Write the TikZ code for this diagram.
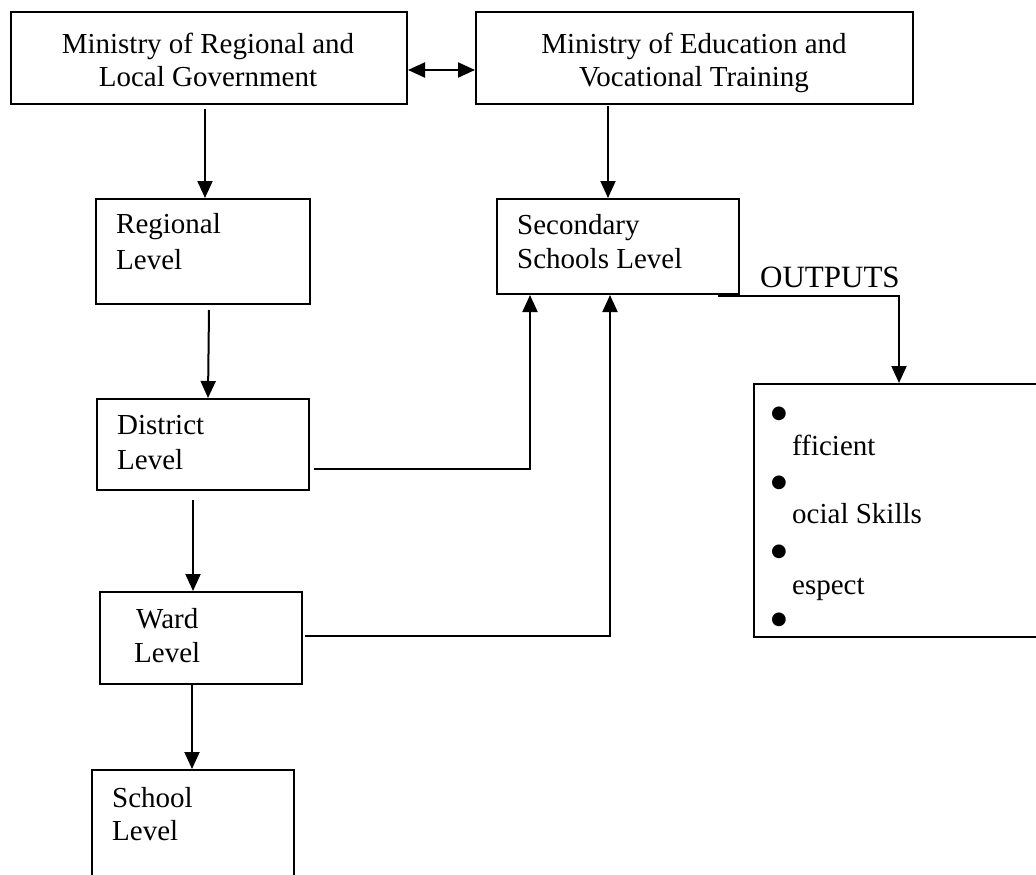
\documentclass[tikz,border=0pt]{standalone}
\usepackage{fontspec}
\setmainfont{Liberation Serif}
\newfontfamily\dejavu{DejaVu Sans}
\usetikzlibrary{arrows.meta,calc}
\begin{document}
\begin{tikzpicture}[x=1pt,y=-1pt,
  box/.style={draw, line width=2pt, inner sep=0pt, anchor=north west},
  txt/.style={anchor=base west, inner sep=0pt, font=\fontsize{29}{34}\selectfont},
  ctxt/.style={anchor=base, inner sep=0pt, font=\fontsize{29}{34}\selectfont},
  bul/.style={anchor=center, inner sep=0pt, font=\dejavu\fontsize{18}{20}\selectfont},
  tip/.tip={Triangle[length=17pt,width=15pt]},
  arr/.style={line width=2pt, -tip},
  darr/.style={line width=2pt, tip-tip}]
\clip (0,0) rectangle (1036,875);
\fill[white] (0,0) rectangle (1036,875);
% boxes
\node[box, minimum width=396pt, minimum height=92pt] (m1) at (10,11) {};
\node[box, minimum width=437pt, minimum height=92pt] (m2) at (475,11) {};
\node[box, minimum width=214pt, minimum height=105pt] (reg) at (95,198) {};
\node[box, minimum width=242pt, minimum height=95pt] (sec) at (496,198) {};
\node[box, minimum width=212pt, minimum height=91pt] (dis) at (96,398) {};
\node[box, minimum width=202pt, minimum height=92pt] (war) at (99,591) {};
\node[box, minimum width=202pt, minimum height=150pt] (sch) at (91,769) {};
\node[box, minimum width=320pt, minimum height=253pt] (out) at (753,383) {};
% texts
\node[ctxt] (t1a) at (208,54) {Ministry of Regional and};
\node[ctxt] (t1b) at (208,86) {Local Government};
\node[ctxt] (t2a) at (694,54) {Ministry of Education and};
\node[ctxt] (t2b) at (694,86) {Vocational Training};
\node[txt] (t3a) at (116,233) {Regional};
\node[txt] (t3b) at (116,269) {Level};
\node[txt] (t4a) at (517,234) {Secondary};
\node[txt] (t4b) at (517,268) {Schools Level};
\node[txt] (t5a) at (117,434) {District};
\node[txt] (t5b) at (117,469) {Level};
\node[txt] (t6a) at (136,628) {Ward};
\node[txt] (t6b) at (134,662) {Level};
\node[txt] (t7a) at (112,807) {School};
\node[txt] (t7b) at (112,840) {Level};
\node[txt, font=\fontsize{31}{36}\selectfont] (op) at (760,287) {OUTPUTS};
\begin{scope}
\clip (753,383) rectangle (1036,627);
\node[bul] (b1) at (779,414) {●};
\node[txt] (l1) at (792,455) {fficient};
\node[bul] (b2) at (779,483) {●};
\node[txt] (l2) at (792,523) {ocial Skills};
\node[bul] (b3) at (779,552) {●};
\node[txt] (l3) at (792,594) {espect};
\node[bul] (b4) at (779,620) {●};
\end{scope}
% connectors
\draw[darr] ($(m1.south east)+(0,-35)$) -- ($(m2.south west)+(0,-35)$);
\draw[arr] ($(m1.south west)+(195,4)$) -- ($(reg.north west)+(110,0)$);
\draw[arr] ($(m2.south west)+(133,1)$) -- ($(sec.north west)+(112,0)$);
\draw[arr] ($(reg.south west)+(114,5)$) -- ($(dis.north west)+(112,0)$);
\draw[arr] ($(dis.south west)+(97,9)$) -- ($(war.north west)+(94,0)$);
\draw[arr] ($(war.south west)+(93,0)$) -- ($(sch.north west)+(101,0)$);
\draw[arr] ($(dis.south east)+(4,-22)$) -| ($(sec.south west)+(34,0)$);
\draw[arr] ($(war.south east)+(2,-49)$) -| ($(sec.south west)+(114,0)$);
\draw[arr] ($(sec.south west)+(222,1)$) -| ($(out.north west)+(146,0)$);
\end{tikzpicture}
\end{document}
